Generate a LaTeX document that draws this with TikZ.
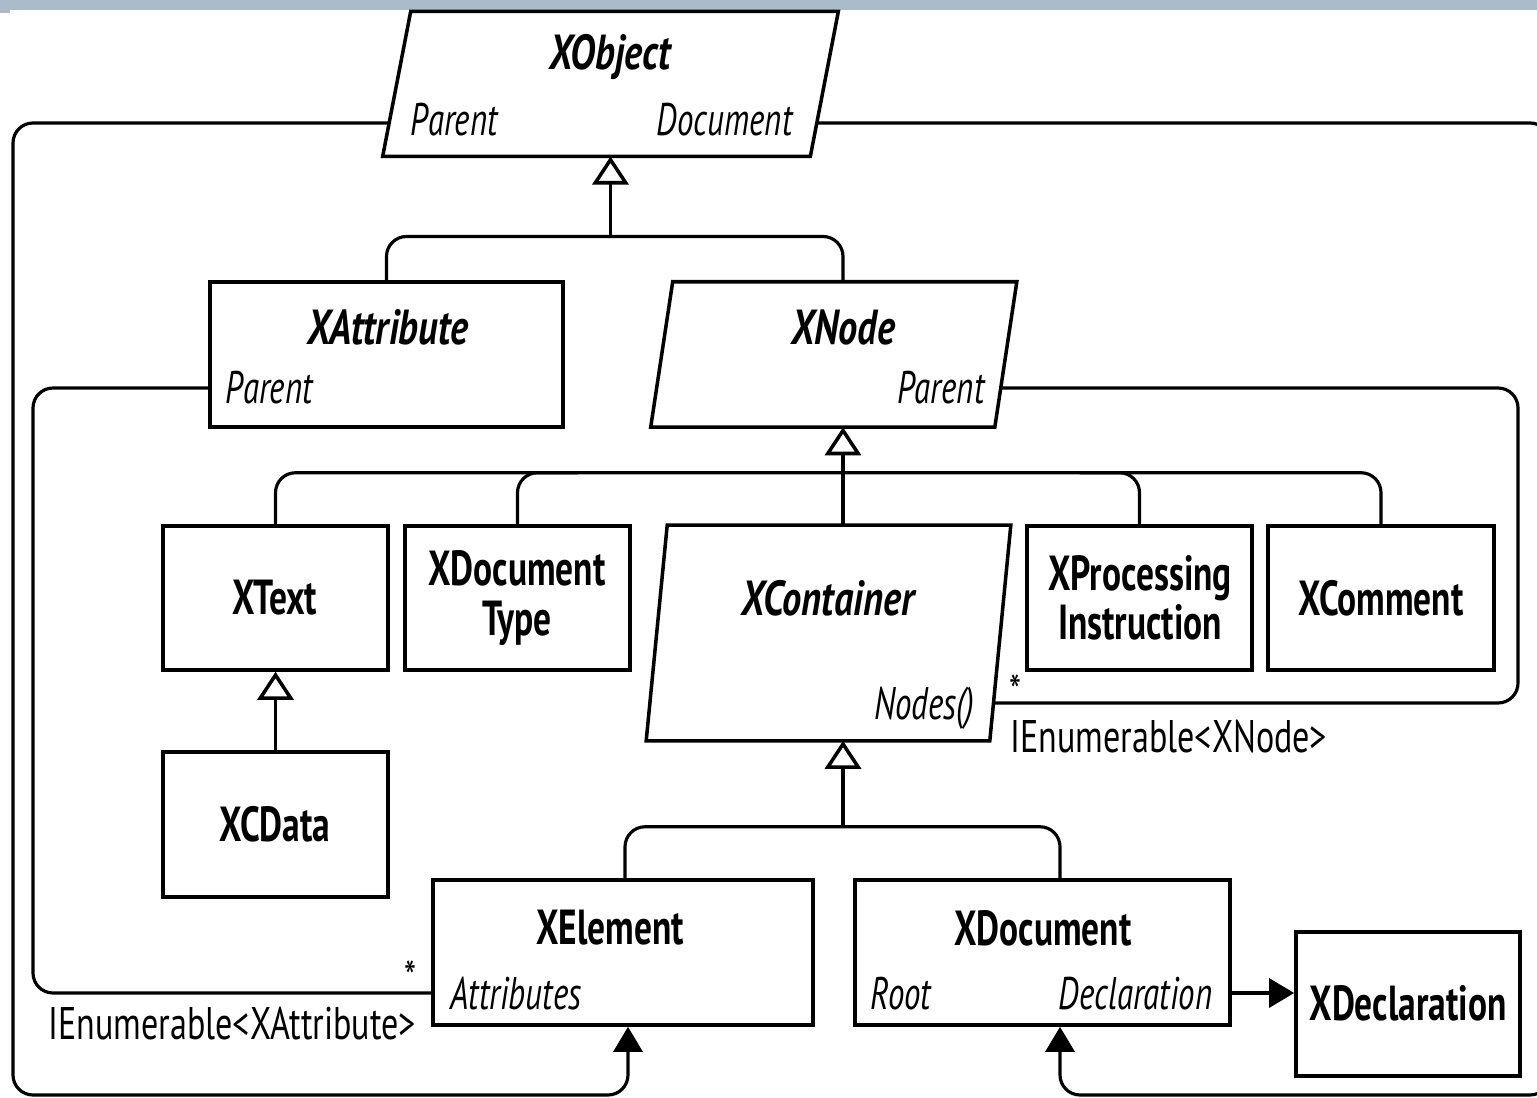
\documentclass[tikz,border=0pt]{standalone}
\usepackage{fontspec}
\setmainfont{PT Sans}[FakeStretch=0.72]
\newfontfamily\fbi{PT Sans}[FakeStretch=0.78]
\newfontfamily\freg{PT Sans}[FakeStretch=0.745]
\usetikzlibrary{arrows.meta,calc}
\definecolor{band}{HTML}{AABCC9}
\tikzset{
  cls/.style={draw, line width=1pt, inner sep=0pt},
  hid/.style={inner sep=0pt},
  ttl/.style={font=\fontsize{14}{17}\selectfont\bfseries, inner sep=0pt, align=center},
  ttli/.style={font=\fbi\fontsize{14}{17}\selectfont\bfseries\itshape, inner sep=0pt, text height=9.8pt, text depth=0pt},
  prop/.style={font=\fontsize{13}{15}\selectfont\itshape, inner sep=0pt, text height=9.1pt, text depth=0pt},
  lbl/.style={font=\freg\fontsize{13}{15}\selectfont, inner sep=0pt, text height=9.1pt, text depth=0pt},
  starlbl/.style={font=\freg\fontsize{13}{15}\selectfont, inner sep=0pt, anchor=base, text depth=0pt},
  conn/.style={line width=0.9pt, rounded corners=0.2cm},
  gen/.style={conn, -{Triangle[open, length=0.28cm, width=0.36cm, line width=1pt]}},
  assoc/.style={conn, -{Triangle[length=0.25cm, width=0.29cm]}},
}
\newcommand\drawpara[2]{\draw[line width=1pt, line join=miter] ($(#1.south west)+(-#2,0)$) -- ($(#1.south east)+(-#2,0)$) -- ($(#1.north east)+(#2,0)$) -- ($(#1.north west)+(#2,0)$) -- cycle;}
\begin{document}
\begin{tikzpicture}[x=0.01cm, y=-0.01cm]
\useasboundingbox (0,0) rectangle (1537,1098);
\clip (0,0) rectangle (1537,1098);
\fill[band] (0,0) rectangle (1537,10);
\fill[band] (0,10) rectangle (10,13);

% parallelogram classes
\node[hid, minimum width=4.26cm, minimum height=1.435cm] (xobject) at (610.5,84) {};
\drawpara{xobject}{14}
\node[hid, minimum width=3.425cm, minimum height=1.44cm] (xnode) at (833.75,354.5) {};
\drawpara{xnode}{11}
\node[hid, minimum width=3.42cm, minimum height=2.14cm] (xcontainer) at (828.5,633) {};
\drawpara{xcontainer}{10.5}

% rectangular classes
\node[cls, minimum width=3.53cm, minimum height=1.45cm] (xattr) at (386.5,354.5) {};
\node[cls, minimum width=2.25cm, minimum height=1.44cm] (xtext) at (275.5,598) {};
\node[cls, minimum width=2.25cm, minimum height=1.44cm] (xdoctype) at (517.5,598) {};
\node[cls, minimum width=2.25cm, minimum height=1.44cm] (xpi) at (1139.5,598) {};
\node[cls, minimum width=2.26cm, minimum height=1.44cm] (xcomment) at (1381,598) {};
\node[cls, minimum width=2.25cm, minimum height=1.45cm] (xcdata) at (275.5,824.5) {};
\node[cls, minimum width=3.80cm, minimum height=1.45cm] (xelement) at (623,952.5) {};
\node[cls, minimum width=3.75cm, minimum height=1.45cm] (xdocument) at (1042.5,952.5) {};
\node[cls, minimum width=2.24cm, minimum height=1.44cm] (xdecl) at (1408,1004) {};

% texts
\node[ttli] (t-xobject) at (610,52) {XObject};
\node[prop, anchor=west] (p-xobj-parent) at (410,120) {Parent};
\node[prop, anchor=east] (p-xobj-doc) at (793,120) {Document};
\node[ttli] (t-xattr) at (388,327) {XAttribute};
\node[prop, anchor=west] (p-xattr-parent) at (225,388) {Parent};
\node[ttli] (t-xnode) at (843,327) {XNode};
\node[prop, anchor=east] (p-xnode-parent) at (985,388) {Parent};
\node[ttl] (t-xtext) at (275,598) {XText};
\node[ttl] (t-xdoctype) at (517,598) {XDocument\\[-3pt]Type};
\node[ttli] (t-xcontainer) at (828,598) {XContainer};
\node[prop, anchor=east] (p-nodes) at (975,703) {Nodes()};
\node[ttl] (t-xpi) at (1140,598) {XProcessing\\[-3pt]Instruction};
\node[ttl] (t-xcomment) at (1381,598) {XComment};
\node[ttl] (t-xcdata) at (275,824) {XCData};
\node[ttl] (t-xelement) at (610,928) {XElement};
\node[prop, anchor=west] (p-attrs) at (450,993) {Attributes};
\node[ttl] (t-xdocument) at (1043,928) {XDocument};
\node[prop, anchor=west] (p-root) at (870,993) {Root};
\node[prop, anchor=east] (p-decl) at (1213,993) {Declaration};
\node[ttl] (t-xdecl) at (1408,1003) {XDeclaration};
\node[starlbl] (star1) at (410,993) {*};
\node[lbl, anchor=west] (ienum1) at (48,1023) {IEnumerable<XAttribute>};
\node[starlbl] (star2) at (1015,708) {*};
\node[lbl, anchor=west] (ienum2) at (1010,736) {IEnumerable<XNode>};

% attachment points
\coordinate (xobjP) at ($(xobject.west)+(-7.6,39)$);
\coordinate (xobjD) at ($(xobject.east)+(-7.6,39)$);
\coordinate (xnT) at ($(xnode.north)+(9.25,0)$);
\coordinate (xnB) at ($(xnode.south)+(9.25,0)$);
\coordinate (xnP) at ($(xnode.east)+(-5.1,33.5)$);
\coordinate (xcT) at ($(xcontainer.north)+(14.5,0)$);
\coordinate (xcB) at ($(xcontainer.south)+(14.5,0)$);
\coordinate (xcN) at ($(xcontainer.east)+(-6.9,70)$);
\coordinate (xattrP) at ($(xattr.west)+(0,33.5)$);
\coordinate (xelemT) at ($(xelement.north)+(2,0)$);
\coordinate (xelemA) at ($(xelement.west)+(0,40.5)$);
\coordinate (xelemB) at ($(xelement.south)+(5,0)$);
\coordinate (xdocT) at ($(xdocument.north)+(17.5,0)$);
\coordinate (xdocB) at ($(xdocument.south)+(17.5,0)$);
\coordinate (xdocD) at ($(xdocument.east)+(0,40.5)$);
\coordinate (bus1) at ($(xobject.south)+(0,80)$);
\coordinate (bus2) at ($(xnB)+(0,45.5)$);
\coordinate (bus3) at ($(xcB)+(0,86)$);
\coordinate (lx) at (33,0);
\coordinate (llx) at (13,0);
\coordinate (rx) at (1518,0);
\coordinate (rrx) at (1550,0);
\coordinate (by) at (0,1095);

% generalisations
\draw[conn] (xattr.north) -- (xattr.north |- bus1) -- (xnT |- bus1) -- (xnT);
\draw[gen] (bus1) -- (xobject.south);
\draw[conn] (xtext.north) -- (xtext.north |- bus2) -- (xcomment.north |- bus2) -- (xcomment.north);
\draw[conn] (xdoctype.north) -- (xdoctype.north |- bus2) -- ($(xdoctype.north |- bus2)+(60,0)$);
\draw[conn] (xpi.north) -- (xpi.north |- bus2) -- ($(xpi.north |- bus2)+(-60,0)$);
\draw[gen] (xcT) -- (xnB);
\draw[gen] (xcdata.north) -- (xtext.south);
\draw[conn] (xelemT) -- (xelemT |- bus3) -- (xdocT |- bus3) -- (xdocT);
\draw[gen] (bus3) -- (xcB);

% associations
\draw[conn] (xattrP) -- (xattrP -| lx) -- (xelemA -| lx) -- (xelemA);
\draw[conn] (xnP) -- (xnP -| rx) -- (xcN -| rx) -- (xcN);
\draw[assoc] (xobjP) -- (xobjP -| llx) -- (llx |- by) -- (xelemB |- by) -- (xelemB);
\draw[assoc] (xobjD) -- (xobjD -| rrx) -- (rrx |- by) -- (xdocB |- by) -- (xdocB);
\draw[assoc, rounded corners=0pt] (xdocD) -- (xdecl.west |- xdocD);
\end{tikzpicture}
\end{document}
